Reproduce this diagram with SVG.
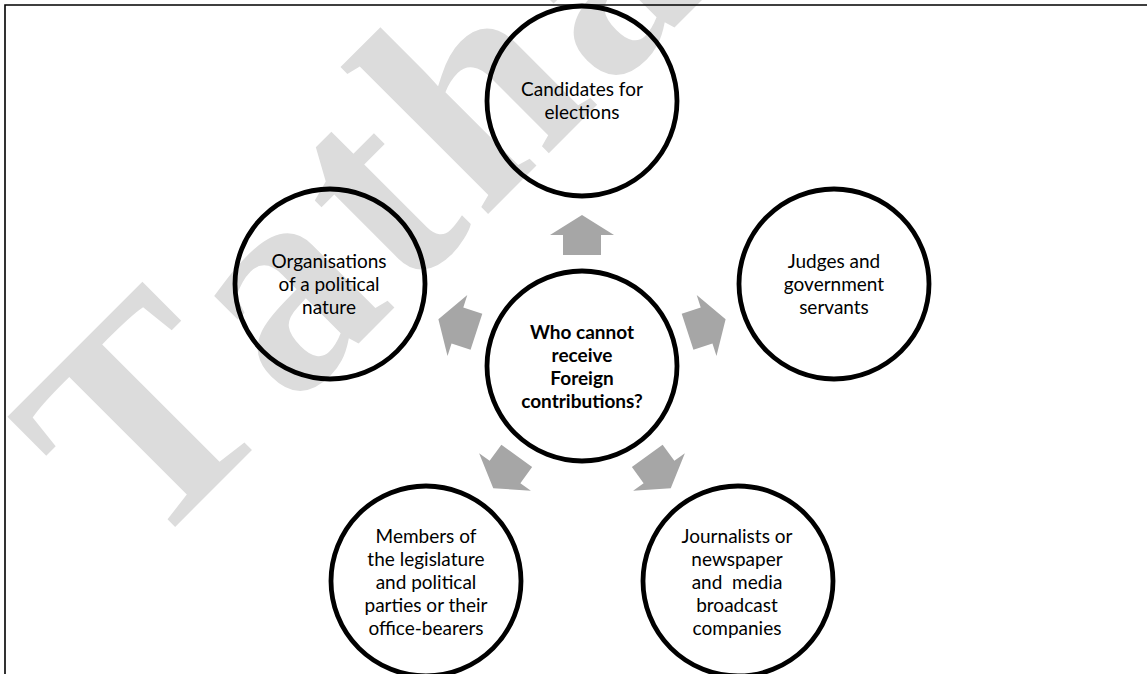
<svg xmlns="http://www.w3.org/2000/svg" width="1147" height="674" viewBox="0 0 1147 674">
<style>
.node circle{fill:none;stroke:#000;stroke-width:4.8}
.node text{font-family:Lato,"Liberation Sans",sans-serif;font-size:19px;fill:#000;text-anchor:middle}
.node text.b{font-weight:bold}
.arrow{fill:#a6a6a6}
.wm{font-family:"Liberation Serif",serif;font-size:300px;font-weight:bold;fill:#dcdcdc;letter-spacing:10px;font-kerning:none}
</style>
<defs>
<path id="arr" d="M0,-151 L32,-131 L19,-131 L19,-111 L-19,-111 L-19,-131 L-32,-131 Z"/>
</defs>
<rect width="1147" height="674" fill="#fff"/>
<text class="wm" transform="translate(143,559) rotate(-45)">Tatha</text>
<path d="M5,674 L5,5 L1147,5" fill="none" stroke="#000" stroke-width="1.6"/>
<g id="connectors">
<use href="#arr" class="arrow" transform="translate(582,366)"/>
<use href="#arr" class="arrow" transform="translate(582,366) rotate(72)"/>
<use href="#arr" class="arrow" transform="translate(582,366) rotate(144)"/>
<use href="#arr" class="arrow" transform="translate(582,366) rotate(216)"/>
<use href="#arr" class="arrow" transform="translate(582,366) rotate(288)"/>
</g>
<g id="center" class="node">
<circle cx="582" cy="366" r="95"/>
<text class="b" x="582" y="339">Who cannot</text>
<text class="b" x="582" y="362">receive</text>
<text class="b" x="582" y="385">Foreign</text>
<text class="b" x="582" y="408">contributions?</text>
</g>
<g id="candidates" class="node">
<circle cx="582" cy="101" r="95"/>
<text x="582" y="96">Candidates for</text>
<text x="582" y="119">elections</text>
</g>
<g id="judges" class="node">
<circle cx="834" cy="284" r="95"/>
<text x="834" y="268">Judges and</text>
<text x="834" y="291">government</text>
<text x="834" y="314">servants</text>
</g>
<g id="journalists" class="node">
<circle cx="738" cy="581" r="95"/>
<text x="737" y="543">Journalists or</text>
<text x="737" y="566">newspaper</text>
<text x="737" y="589">and&#160; media</text>
<text x="737" y="612">broadcast</text>
<text x="737" y="635">companies</text>
</g>
<g id="members" class="node">
<circle cx="426" cy="581" r="95"/>
<text x="426" y="543">Members of</text>
<text x="426" y="566">the legislature</text>
<text x="426" y="589">and political</text>
<text x="426" y="612">parties or their</text>
<text x="426" y="635">office-bearers</text>
</g>
<g id="organisations" class="node">
<circle cx="330" cy="284" r="95"/>
<text x="329" y="268">Organisations</text>
<text x="329" y="291">of a political</text>
<text x="329" y="314">nature</text>
</g>
</svg>
